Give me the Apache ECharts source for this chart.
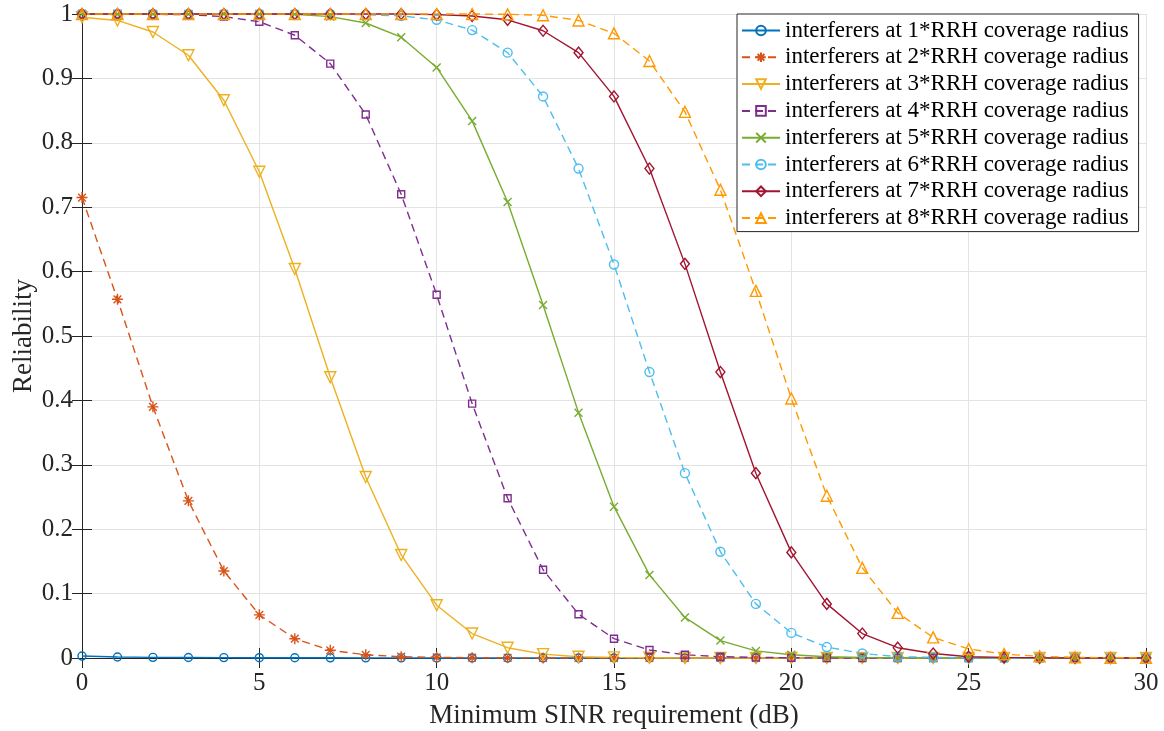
<!DOCTYPE html>
<html>
<head>
<meta charset="utf-8">
<script src="https://cdn.jsdelivr.net/npm/echarts@6/dist/echarts.min.js"></script>
<style>
  html, body { margin: 0; padding: 0; background: #fff; }
  #chart { width: 1164px; height: 731px; }
</style>
</head>
<body>
<div id="chart"></div>
<script>
// Minimum SINR requirement (dB)
const sinrDb = [0,1,2,3,4,5,6,7,8,9,10,11,12,13,14,15,16,17,18,19,20,21,22,23,24,25,26,27,28,29,30];

// Reliability for interferers placed at k * RRH coverage radius
const rel1 = [0.003,0.0015,0.001,0.0008,0.0006,0.0005,0.0004,0.0003,0.0002,0.0002,0.0001,0.0001,0,0,0,0,0,0,0,0,0,0,0,0,0,0,0,0,0,0,0];
const rel2 = [0.715,0.557,0.39,0.244,0.135,0.067,0.03,0.012,0.005,0.002,0.001,0.0005,0.0002,0.0001,0,0,0,0,0,0,0,0,0,0,0,0,0,0,0,0,0];
const rel3 = [0.995,0.99,0.972,0.936,0.866,0.755,0.604,0.436,0.281,0.16,0.082,0.038,0.016,0.006,0.002,0.001,0.0005,0,0,0,0,0,0,0,0,0,0,0,0,0,0];
const rel4 = [1,1,0.9995,0.999,0.996,0.988,0.967,0.923,0.844,0.72,0.564,0.395,0.248,0.137,0.068,0.03,0.0124,0.005,0.002,0.001,0.0004,0,0,0,0,0,0,0,0,0,0];
const rel5 = [1,1,1,1,1,1,0.9995,0.996,0.986,0.964,0.917,0.834,0.708,0.548,0.381,0.235,0.129,0.063,0.027,0.011,0.005,0.002,0.001,0.0004,0,0,0,0,0,0,0];
const rel6 = [1,1,1,1,1,1,1,1,0.999,0.997,0.991,0.975,0.94,0.872,0.76,0.611,0.444,0.287,0.165,0.084,0.039,0.017,0.007,0.002,0.001,0.0004,0,0,0,0,0];
const rel7 = [1,1,1,1,1,1,1,1,1,1,0.999,0.997,0.991,0.974,0.94,0.872,0.76,0.612,0.444,0.287,0.164,0.084,0.038,0.016,0.007,0.002,0.001,0.0004,0,0,0];
const rel8 = [1,1,1,1,1,1,1,1,1,1,1,1,0.9995,0.998,0.99,0.97,0.927,0.848,0.727,0.57,0.403,0.252,0.14,0.07,0.032,0.014,0.006,0.0026,0.001,0.0004,0.0002];

const seriesNames = [
  'interferers at 1*RRH coverage radius',
  'interferers at 2*RRH coverage radius',
  'interferers at 3*RRH coverage radius',
  'interferers at 4*RRH coverage radius',
  'interferers at 5*RRH coverage radius',
  'interferers at 6*RRH coverage radius',
  'interferers at 7*RRH coverage radius',
  'interferers at 8*RRH coverage radius'
];
const xTicks = [0, 5, 10, 15, 20, 25, 30];

const FONT = '"Liberation Serif", "Times New Roman", serif';
const AXIS_COLOR = '#262626';

const ASTERISK = 'path://M0,-10L0,10M-10,0L10,0M-7,-7L7,7M-7,7L7,-7';
const CROSS = 'path://M-10,-10L10,10M-10,10L10,-10';

const styles = [
  { color: '#0072BD', dash: 'solid', symbol: 'circle', size: 8 },
  { color: '#D95319', dash: [8, 5], symbol: ASTERISK, size: 11 },
  { color: '#EDB120', dash: 'solid', symbol: 'triangle', size: 11, rotate: 180 },
  { color: '#7E2F8E', dash: [8, 5], symbol: 'rect', size: 7 },
  { color: '#77AC30', dash: 'solid', symbol: CROSS, size: 8 },
  { color: '#4DBEEE', dash: [8, 5], symbol: 'circle', size: 9 },
  { color: '#A2142F', dash: 'solid', symbol: 'diamond', size: [9, 11] },
  { color: '#FF9900', dash: [8, 5], symbol: 'triangle', size: 11 }
];
const values = [rel1, rel2, rel3, rel4, rel5, rel6, rel7, rel8];

const series = values.map((vals, i) => {
  const s = styles[i];
  return {
    name: seriesNames[i],
    type: 'line',
    data: sinrDb.map((x, j) => [x, vals[j]]),
    symbol: s.symbol,
    symbolSize: s.size,
    symbolRotate: s.rotate || 0,
    showAllSymbol: true,
    clip: false,
    lineStyle: { color: s.color, width: 1.4, type: s.dash },
    itemStyle: { color: 'rgba(255,255,255,0)', borderColor: s.color, borderWidth: 1.4 },
    emphasis: { disabled: true },
    animation: false
  };
});

const chart = echarts.init(document.getElementById('chart'));
chart.setOption({
  backgroundColor: '#fff',
  animation: false,
  grid: { left: 82, right: 18, top: 14, bottom: 73, outerBoundsMode: 'none', containLabel: false },
  legend: {
    orient: 'vertical',
    left: 737,
    top: 14,
    padding: [5, 10, 2, 4],
    itemWidth: 38,
    itemHeight: 12,
    itemGap: 3.8,
    backgroundColor: '#fff',
    borderColor: AXIS_COLOR,
    borderWidth: 1,
    borderRadius: 0,
    textStyle: { fontFamily: FONT, fontSize: 23, lineHeight: 22, color: '#000' },
    data: seriesNames
  },
  xAxis: [
    {
      type: 'value', min: 0, max: 30, interval: 5,
      name: 'Minimum SINR requirement (dB)',
      nameLocation: 'middle', nameGap: 44, nameMoveOverlap: false,
      nameTextStyle: { fontFamily: FONT, fontSize: 27, color: '#262626' },
      axisLine: { show: true, lineStyle: { color: AXIS_COLOR, width: 1 } },
      axisTick: { show: true, inside: true, length: 10, lineStyle: { color: AXIS_COLOR } },
      axisLabel: {
        fontFamily: FONT, fontSize: 25, color: '#262626', margin: 13,
        customValues: xTicks
      },
      splitLine: { show: true, lineStyle: { color: '#e3e3e3', width: 1 } }
    },
    {
      type: 'value', min: 0, max: 30, interval: 5, position: 'top',
      axisLine: { show: true, lineStyle: { color: AXIS_COLOR, width: 1 } },
      axisTick: { show: true, inside: true, length: 10, lineStyle: { color: AXIS_COLOR } },
      axisLabel: { show: false },
      splitLine: { show: false }
    }
  ],
  yAxis: [
    {
      type: 'value', min: 0, max: 1, interval: 0.1,
      name: 'Reliability',
      nameLocation: 'middle', nameGap: 45, nameRotate: 90, nameMoveOverlap: false,
      nameTextStyle: { fontFamily: FONT, fontSize: 27, color: '#262626' },
      axisLine: { show: true, lineStyle: { color: AXIS_COLOR, width: 1 } },
      axisTick: { show: true, inside: true, length: 10, lineStyle: { color: AXIS_COLOR } },
      axisLabel: {
        fontFamily: FONT, fontSize: 25, color: '#262626', margin: 9,
        formatter: v => String(Math.round(v * 10) / 10)
      },
      splitLine: { show: true, lineStyle: { color: '#e3e3e3', width: 1 } }
    },
    {
      type: 'value', min: 0, max: 1, interval: 0.1, position: 'right',
      axisLine: { show: true, lineStyle: { color: AXIS_COLOR, width: 1 } },
      axisTick: { show: true, inside: true, length: 10, lineStyle: { color: AXIS_COLOR } },
      axisLabel: { show: false },
      splitLine: { show: false }
    }
  ],
  series: series
});
</script>
</body>
</html>
